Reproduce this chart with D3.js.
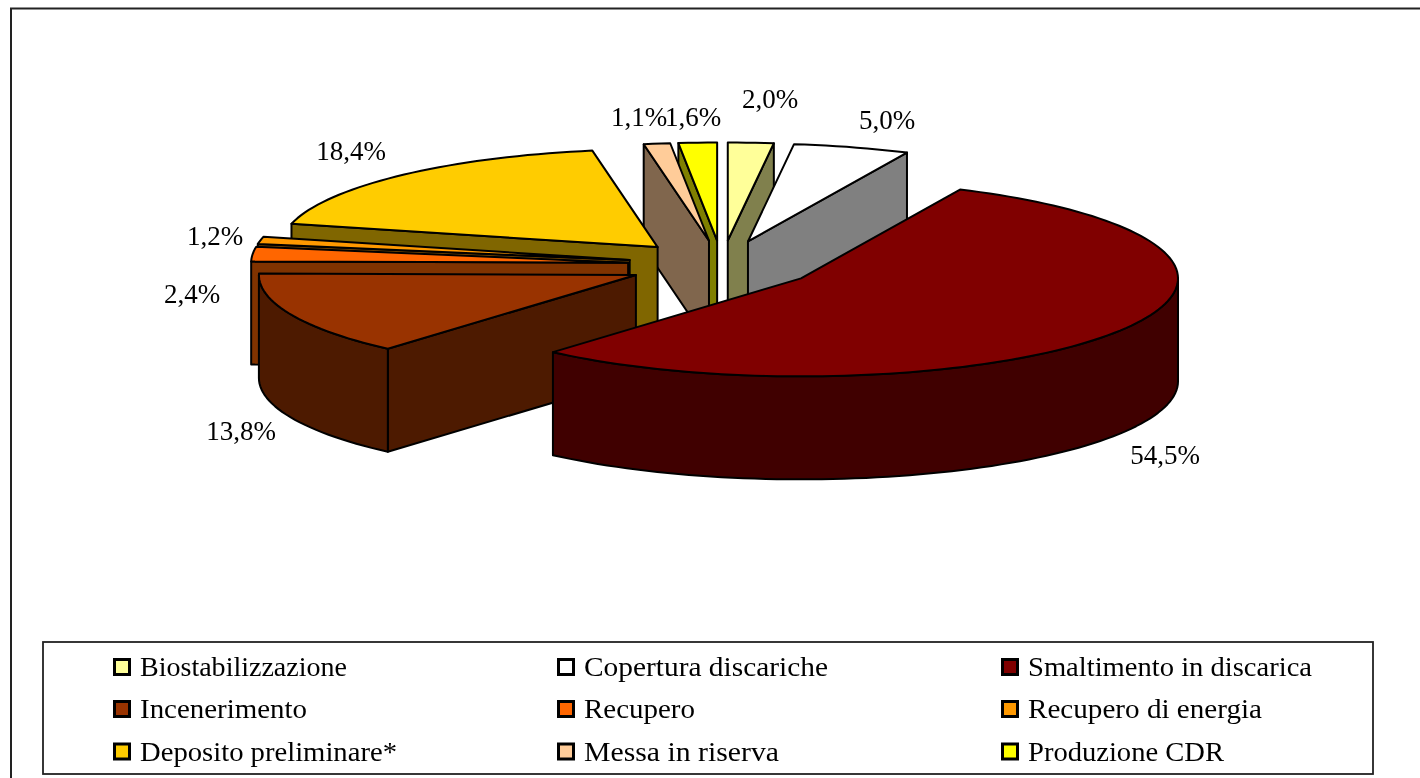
<!DOCTYPE html>
<html>
<head>
<meta charset="utf-8">
<script src="https://cdn.jsdelivr.net/npm/d3@7"></script>
<style>
  html, body { margin: 0; padding: 0; background: #fff; }
  svg { display: block; filter: blur(0.55px); }
  text { font-family: "Liberation Serif", serif; fill: #000; }
</style>
</head>
<body>
<div id="chart"></div>
<script>
const categories = [
  "Biostabilizzazione", "Copertura discariche", "Smaltimento in discarica",
  "Incenerimento", "Recupero", "Recupero di energia",
  "Deposito preliminare*", "Messa in riserva", "Produzione CDR"
];
// Labels are rounded; the small slices are read a bit finer from their angles
const shares = [1.95, 4.98, 54.5, 13.8, 2.4, 1.2, 18.4, 1.13, 1.64];
const shareLabels = ["2,0%", "5,0%", "54,5%", "13,8%", "2,4%", "1,2%", "18,4%", "1,1%", "1,6%"];
const sliceColors = ["#ffff99", "#ffffff", "#800000", "#993300", "#ff6600", "#ff9900", "#ffcc00", "#ffcc99", "#ffff00"];

// Painter's order, back slices first
const drawOrder = [0, 1, 8, 7, 6, 5, 4, 3, 2];

// Label anchors (centre x, baseline y), placed by hand like the original
const labelAnchors = [[770, 108], [887, 129], [1165, 464], [241, 440], [192, 303], [215, 245], [351, 160], [639, 126], [693, 126]];
// The source text is stretched a bit, so legend widths are set per entry
const legendWidths = [207, 244, 284, 167, 111, 234, 257, 195, 196];

const width = 1420, height = 778;
const pieCx = 722, pieCy = 265, rx = 377, ry = 98;
const depth = 103, explode = 0.25;

const svg = d3.select("#chart").append("svg").attr("width", width).attr("height", height);

// Unit circle -> screen, squashed for the tilt
const x = d3.scaleLinear().domain([-1, 1]).range([pieCx - rx, pieCx + rx]);
const y = d3.scaleLinear().domain([-1, 1]).range([pieCy - ry, pieCy + ry]);

const arcs = d3.pie().sort(null).value((d) => d)(shares);
const line = d3.line();

function wedge(d) {
  const mid = (d.startAngle + d.endAngle) / 2;
  const ox = explode * Math.sin(mid);
  const oy = -explode * Math.cos(mid);
  const at = (a, drop = 0) => [x(ox + Math.sin(a)), y(oy - Math.cos(a)) + drop];
  return { at, apex: (drop = 0) => [x(ox), y(oy) + drop] };
}

function sampleAngles(a0, a1) {
  const n = Math.max(2, Math.ceil((a1 - a0) / 0.03));
  return d3.range(n + 1).map((i) => a0 + ((a1 - a0) * i) / n);
}

function darken(color) {
  const c = d3.rgb(color);
  return d3.rgb(c.r * 0.5, c.g * 0.5, c.b * 0.5).formatHex();
}

function addFace(points, fill) {
  svg.append("path")
    .attr("d", line(points) + "Z")
    .attr("fill", fill)
    .attr("stroke", "#000")
    .attr("stroke-width", 2)
    .attr("stroke-linejoin", "round");
}

function drawSlice(d) {
  const { at, apex } = wedge(d);
  const fill = sliceColors[d.index];
  const wall = darken(fill);
  const PI = Math.PI;

  // side walls that face the viewer
  if (d.startAngle > PI && d.startAngle < 2 * PI) {
    addFace([at(d.startAngle), apex(), apex(depth), at(d.startAngle, depth)], wall);
  }
  if (d.endAngle > 0 && d.endAngle < PI) {
    addFace([at(d.endAngle), apex(), apex(depth), at(d.endAngle, depth)], wall);
  }

  // curved rim, front half only
  const a0 = Math.max(d.startAngle, PI / 2);
  const a1 = Math.min(d.endAngle, (3 * PI) / 2);
  if (a1 > a0) {
    const angles = sampleAngles(a0, a1);
    addFace([
      ...angles.map((a) => at(a)),
      ...angles.slice().reverse().map((a) => at(a, depth))
    ], wall);
  }

  // top
  addFace([apex(), ...sampleAngles(d.startAngle, d.endAngle).map((a) => at(a))], fill);
}

// Chart frame: only the top and left edges show in the crop
svg.append("path")
  .attr("d", `M11,${height} V8.5 H${width}`)
  .attr("fill", "none")
  .attr("stroke", "#222")
  .attr("stroke-width", 2);

drawOrder.forEach((i) => drawSlice(arcs[i]));

svg.selectAll("text.value")
  .data(shareLabels)
  .join("text")
  .attr("class", "value")
  .attr("x", (d, i) => labelAnchors[i][0])
  .attr("y", (d, i) => labelAnchors[i][1])
  .attr("text-anchor", "middle")
  .attr("font-size", 27)
  .text((d) => d);

// Legend
svg.append("rect")
  .attr("x", 43).attr("y", 642)
  .attr("width", 1330).attr("height", 132)
  .attr("fill", "#fff")
  .attr("stroke", "#222")
  .attr("stroke-width", 1.8);

const legendCol = d3.scaleOrdinal().domain([0, 1, 2]).range([122, 566, 1010]);
const legendRow = d3.scaleOrdinal().domain([0, 1, 2]).range([667, 709, 751.5]);

const legendItems = svg.selectAll("g.legend-item")
  .data(categories)
  .join("g")
  .attr("class", "legend-item")
  .attr("transform", (d, i) => `translate(${legendCol(i % 3)},${legendRow(Math.floor(i / 3))})`);

legendItems.append("rect")
  .attr("x", -7.5).attr("y", -7.5)
  .attr("width", 15).attr("height", 15)
  .attr("fill", (d, i) => sliceColors[i])
  .attr("stroke", "#000")
  .attr("stroke-width", 3);

legendItems.append("text")
  .attr("x", 18).attr("y", 9)
  .attr("font-size", 28)
  .attr("textLength", (d, i) => legendWidths[i])
  .attr("lengthAdjust", "spacingAndGlyphs")
  .text((d) => d);
</script>
</body>
</html>
